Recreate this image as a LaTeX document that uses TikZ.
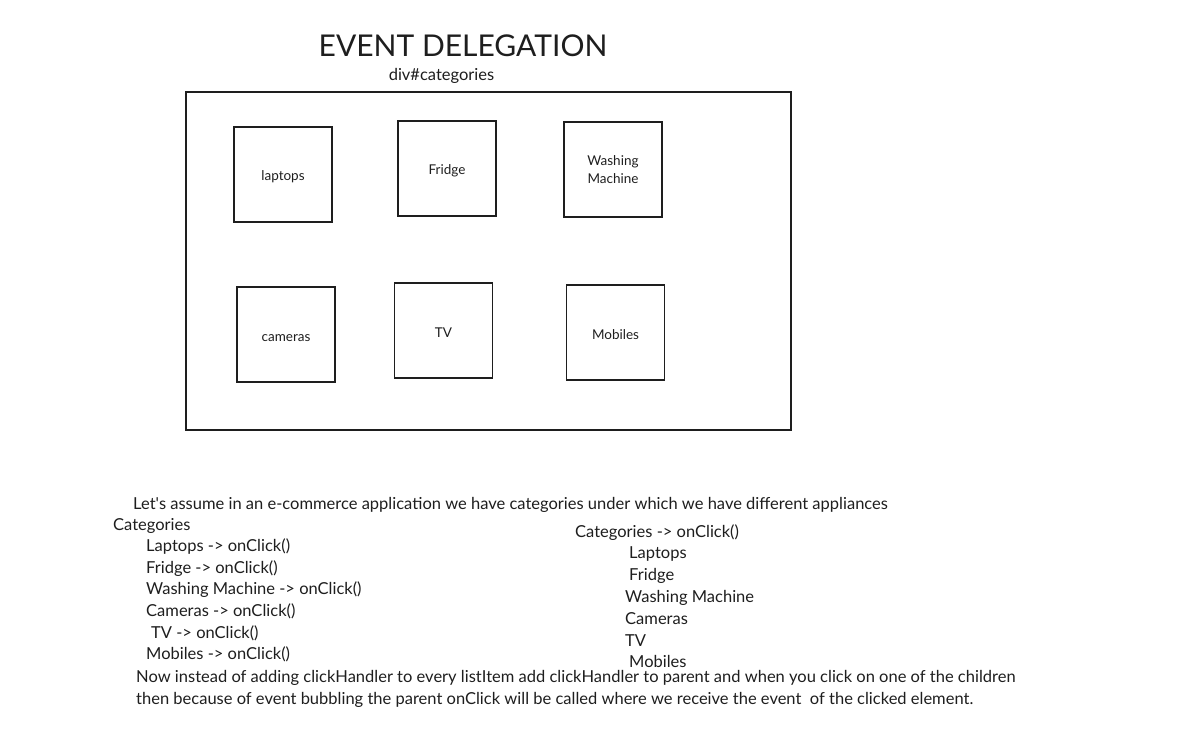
\documentclass[tikz,border=0pt]{standalone}
\usepackage{fontspec}
\setmainfont{Lato}
\usetikzlibrary{positioning}

\definecolor{ink}{HTML}{1E1E1E}

\tikzset{
  item/.style={draw=ink,line width=1.3pt,minimum width=98pt,minimum height=95pt,
    align=center,font=\fontsize{13.5}{18}\selectfont,text=ink,inner sep=0pt,
    execute at begin node={\rule{0pt}{14pt}}},
  line/.style={anchor=west,font=\fontsize{16.5}{20}\selectfont,text=ink,inner sep=0pt,yshift=-1.5pt}
}

\begin{document}
\begin{tikzpicture}[x=1pt,y=-1pt]
    \useasboundingbox (0,0) rectangle (1187,743);
    \path (463,46) node [font=\fontsize{30}{32}\selectfont,text=ink]
	(title) {EVENT DELEGATION};
    \path (441.5,76) node [font=\fontsize{16.5}{18}\selectfont,text=ink]
	(divlabel) {div\#categories};
    \draw [ink,line width=1.3pt] (186,92) rectangle (791,430);
    \path (283,174.5) node [item] (laptops) {laptops};
    \path (447,168.5) node [item] (fridge) {Fridge};
    \path (613,169.5) node [item] (washing) {Washing\\Machine};
    \path (286,334.5) node [item] (cameras) {cameras};
    \path (443.5,330.5) node [item] (tv) {TV};
    \path (615.5,332.5) node [item] (mobiles) {Mobiles};
    % left list
    \path (133,503) node [line] (assume) {Let\textquotesingle s assume in an e-commerce application we have categories under which we have different appliances};
    \path (113,524) node [line] (cats) {Categories};
    \path (146,545) node [line] (l1) {Laptops -> onClick()};
    \path (146,567) node [line] (l2) {Fridge -> onClick()};
    \path (146,588) node [line] (l3) {Washing Machine -> onClick()};
    \path (146,610) node [line] (l4) {Cameras -> onClick()};
    \path (151,632) node [line] (l5) {TV -> onClick()};
    \path (146,653) node [line] (l6) {Mobiles -> onClick()};
    % right list
    \path (575,531) node [line] (rcats) {Categories -> onClick()};
    \path (629,553) node [line] (r1) {Laptops};
    \path (629,574) node [line] (r2) {Fridge};
    \path (625,596) node [line] (r3) {Washing Machine};
    \path (625,617) node [line] (r4) {Cameras};
    \path (625,639) node [line] (r5) {TV};
    \path (629,660) node [line] (r6) {Mobiles};
    % note
    \path (136,676) node [line] (now1) {Now instead of adding clickHandler to every listItem add clickHandler to parent and when you click on one of the children};
    \path (136,698) node [line] (now2) {then because of event bubbling the parent onClick will be called where we receive the event \ of the clicked element.};
\end{tikzpicture}
\end{document}
